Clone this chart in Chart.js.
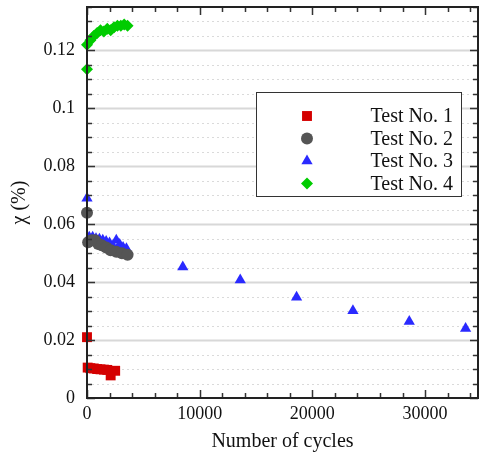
<!DOCTYPE html>
<html>
<head>
<meta charset="utf-8">
<script src="https://cdn.jsdelivr.net/npm/chart.js@4.4.1/dist/chart.umd.min.js"></script>
<style>
  html, body { margin: 0; padding: 0; background: #fff; }
  canvas { display: block; }
</style>
</head>
<body>
<canvas id="cycleChart" width="485" height="466"></canvas>
<script>
// axis setup
const xMax = 34700;
const yMax = 0.135;
const xTicks = [0, 10000, 20000, 30000];
const xTickLabels = ["0", "10000", "20000", "30000"];
const yTicks = [0, 0.02, 0.04, 0.06, 0.08, 0.1, 0.12];
const yTickLabels = ["0", "0.02", "0.04", "0.06", "0.08", "0.1", "0.12"];
const xMinorStep = 2000;
const yMinorStep = 0.005;

const seriesNames = ["Test No. 1", "Test No. 2", "Test No. 3", "Test No. 4"];

// Test No. 1 (red squares)
const test1Cycles = [0, 60, 300, 600, 900, 1200, 1500, 1800, 2100, 2500];
const test1Chi = [0.021, 0.0105, 0.0103, 0.0102, 0.0100, 0.0099, 0.0098, 0.0097, 0.0078, 0.0094];

// Test No. 2 (grey circles)
const test2Cycles = [0, 100, 400, 700, 1000, 1300, 1700, 2100, 2600, 3100, 3600];
const test2Chi = [0.064, 0.0538, 0.0545, 0.0545, 0.0532, 0.0527, 0.0520, 0.0510, 0.0505, 0.0500, 0.0495];

// Test No. 3 (blue triangles)
const test3Cycles = [0, 200, 500, 800, 1100, 1400, 1700, 2000, 2300, 2600, 2900, 3200, 3500,
                     8500, 13600, 18600, 23600, 28600, 33600];
const test3Chi = [0.069, 0.0555, 0.0555, 0.0550, 0.0548, 0.0545, 0.0540, 0.0535, 0.0525, 0.0545, 0.0530, 0.0520, 0.0515,
                  0.0452, 0.0407, 0.0348, 0.0301, 0.0264, 0.0240];

// Test No. 4 (green diamonds)
const test4Cycles = [0, 0, 300, 600, 900, 1200, 1500, 1800, 2100, 2400, 2700, 3000, 3300, 3600];
const test4Chi = [0.1135, 0.1220, 0.1235, 0.1250, 0.1260, 0.1270, 0.1265, 0.1275, 0.1270, 0.1280, 0.1285, 0.1285, 0.1290, 0.1285];

function toPoints(xs, ys) {
  return xs.map((x, i) => ({ x: x, y: ys[i] }));
}

const serif = "'Liberation Serif', 'DejaVu Serif', serif";

const frame = {
  id: "frame",
  beforeDatasetsDraw(chart) {
    const { ctx, chartArea: a, scales } = chart;
    const y = scales.y;
    ctx.save();
    const n = Math.round(yMax / yMinorStep);
    for (let i = 1; i <= n; i++) {
      const py = Math.round(y.getPixelForValue(i * yMinorStep)) + 0.5;
      const major = i % 4 === 0;
      ctx.beginPath();
      ctx.strokeStyle = major ? "#d8d8d8" : "#dadada";
      ctx.lineWidth = major ? 2 : 1;
      ctx.setLineDash(major ? [] : [2, 3]);
      ctx.moveTo(a.left, py);
      ctx.lineTo(a.right, py);
      ctx.stroke();
    }
    ctx.restore();
  },
  afterDatasetsDraw(chart) {
    const { ctx, chartArea: a, scales } = chart;
    const x = scales.x, y = scales.y;
    ctx.save();
    ctx.strokeStyle = "#333";
    ctx.lineWidth = 1.5;
    // inward ticks on all four sides
    for (let v = 0; v <= xMax; v += xMinorStep) {
      const px = Math.round(x.getPixelForValue(v)) + 0.5;
      const len = v % 10000 === 0 ? 8 : 5;
      ctx.beginPath();
      ctx.moveTo(px, a.bottom); ctx.lineTo(px, a.bottom - len);
      ctx.moveTo(px, a.top); ctx.lineTo(px, a.top + len);
      ctx.stroke();
    }
    const n = Math.round(yMax / yMinorStep);
    for (let i = 0; i <= n; i++) {
      const py = Math.round(y.getPixelForValue(i * yMinorStep)) + 0.5;
      const len = i % 4 === 0 ? 8 : 5;
      ctx.beginPath();
      ctx.moveTo(a.left, py); ctx.lineTo(a.left + len, py);
      ctx.moveTo(a.right, py); ctx.lineTo(a.right - len, py);
      ctx.stroke();
    }
    ctx.lineWidth = 2;
    ctx.strokeStyle = "#222";
    ctx.strokeRect(a.left, a.top, a.right - a.left, a.bottom - a.top);
    ctx.restore();
  },
  afterDraw(chart) {
    const ctx = chart.ctx;
    const box = { left: 256, top: 92, width: 205, height: 104 };
    ctx.save();
    ctx.fillStyle = "#fff";
    ctx.fillRect(box.left, box.top, box.width, box.height);
    ctx.strokeStyle = "#333";
    ctx.lineWidth = 1;
    ctx.strokeRect(box.left + 0.5, box.top + 0.5, box.width, box.height);
    ctx.font = "20px " + serif;
    ctx.textAlign = "right";
    ctx.textBaseline = "middle";
    chart.data.datasets.forEach((ds, i) => {
      const cy = box.top + 24 + i * 22.5;
      ctx.fillStyle = ds.backgroundColor;
      ctx.strokeStyle = ds.backgroundColor;
      Chart.helpers.drawPoint(ctx, { pointStyle: ds.pointStyle, radius: ds.pointRadius, rotation: 0, borderWidth: 0 }, box.left + 51, cy);
      ctx.fillStyle = "#111";
      ctx.fillText(ds.label, box.left + 197, cy + 1);
    });
    ctx.restore();
  }
};

function makeSet(label, xs, ys, color, style, radius) {
  return {
    label: label,
    data: toPoints(xs, ys),
    backgroundColor: color,
    borderColor: color,
    borderWidth: 0,
    pointStyle: style,
    pointRadius: radius,
    pointHoverRadius: radius,
    showLine: false,
    clip: false
  };
}

function noPad(s) {
  s.paddingTop = 0; s.paddingBottom = 0; s.paddingLeft = 0; s.paddingRight = 0;
}

new Chart(document.getElementById("cycleChart"), {
  type: "scatter",
  data: {
    datasets: [
      makeSet(seriesNames[0], test1Cycles, test1Chi, "#d40000", "rect", 7),
      makeSet(seriesNames[1], test2Cycles, test2Chi, "#555555", "circle", 6),
      makeSet(seriesNames[2], test3Cycles, test3Chi, "#2a2aff", "triangle", 6.5),
      makeSet(seriesNames[3], test4Cycles, test4Chi, "#00cc00", "rectRot", 6)
    ]
  },
  options: {
    responsive: false,
    devicePixelRatio: 1,
    animation: false,
    layout: { padding: { left: 8, top: 6, right: 2, bottom: 12 } },
    plugins: { legend: { display: false }, tooltip: { enabled: false } },
    scales: {
      x: {
        type: "linear",
        min: 0,
        max: xMax,
        afterBuildTicks: s => { s.ticks = xTicks.map(v => ({ value: v })); },
        afterFit: s => { s.height = 56; noPad(s); },
        grid: { display: false, drawTicks: false },
        border: { display: false },
        ticks: {
          font: { family: serif, size: 18 },
          color: "#111",
          padding: 5,
          maxRotation: 0,
          callback: (v, i) => xTickLabels[i]
        },
        title: { display: true, text: "Number of cycles", font: { family: serif, size: 20 }, color: "#111", padding: 0 }
      },
      y: {
        type: "linear",
        min: 0,
        max: yMax,
        afterBuildTicks: s => { s.ticks = yTicks.map(v => ({ value: v })); },
        afterFit: s => { s.width = 79; noPad(s); },
        grid: { display: false, drawTicks: false },
        border: { display: false },
        ticks: {
          font: { family: serif, size: 18 },
          color: "#111",
          padding: 12,
          callback: (v, i) => yTickLabels[i]
        },
        title: { display: true, text: "\u03c7 (%)", font: { family: serif, size: 20 }, color: "#111", padding: 0 }
      }
    }
  },
  plugins: [frame]
});
</script>
</body>
</html>
